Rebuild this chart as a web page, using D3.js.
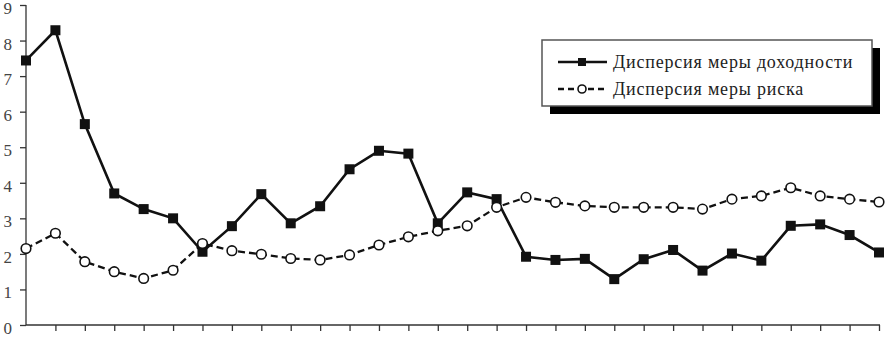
<!doctype html>
<html>
<head>
<meta charset="utf-8">
<script src="https://d3js.org/d3.v7.min.js"></script>
<style>
  body { margin: 0; background: #fff; }
  svg { display: block; }
</style>
</head>
<body>
<svg width="889" height="337"></svg>
<script>
var periods = d3.range(1, 31);
var returnDisp = [7.44, 8.29, 5.65, 3.70, 3.26, 3.00, 2.06, 2.78, 3.68, 2.86,
                  3.34, 4.38, 4.90, 4.82, 2.86, 3.73, 3.54, 1.92, 1.83, 1.86,
                  1.29, 1.85, 2.11, 1.53, 2.01, 1.81, 2.79, 2.83, 2.53, 2.04];
var riskDisp = [2.15, 2.58, 1.78, 1.50, 1.31, 1.54, 2.29, 2.09, 1.99, 1.87,
                1.83, 1.97, 2.25, 2.48, 2.65, 2.79, 3.31, 3.59, 3.45, 3.35,
                3.31, 3.31, 3.31, 3.26, 3.54, 3.63, 3.86, 3.63, 3.54, 3.46];
var yTicks = [0, 1, 2, 3, 4, 5, 6, 7, 8, 9];
var seriesNames = ["Дисперсия меры доходности", "Дисперсия меры риска"];

var svg = d3.select("svg");
var plot = {left: 26, right: 879, top: 5, bottom: 325};

var x = d3.scalePoint().domain(periods).range([plot.left, plot.right]);
var y = d3.scaleLinear().domain([0, 9]).range([plot.bottom, plot.top]);

// axes
var gx = svg.append("g")
    .attr("transform", "translate(0," + plot.bottom + ")")
    .call(d3.axisBottom(x).tickSize(6).tickFormat(""));
gx.select(".domain").attr("d", "M" + plot.left + ",0H" + (plot.right + 1));
gx.selectAll(".tick").filter(function(d, i) { return i === 0; }).remove();

var gy = svg.append("g")
    .attr("transform", "translate(" + plot.left + ",0)")
    .call(d3.axisLeft(y).tickValues(yTicks).tickSize(6).tickPadding(8).tickFormat(d3.format("d")));
gy.select(".domain").attr("d", "M0," + plot.top + "V" + plot.bottom);

svg.selectAll(".domain, .tick line").attr("stroke", "#333").attr("stroke-width", 1.3);
gy.selectAll("text")
    .attr("font-family", "Liberation Serif, serif")
    .attr("font-size", 17)
    .attr("dy", "0.5em")
    .attr("fill", "#444");

// lines
var line = d3.line().x(function(d, i) { return x(periods[i]); }).y(function(d) { return y(d); });

svg.append("path").datum(riskDisp)
    .attr("d", line).attr("fill", "none")
    .attr("stroke", "#111").attr("stroke-width", 2.3)
    .attr("stroke-dasharray", "7,4");

svg.append("path").datum(returnDisp)
    .attr("d", line).attr("fill", "none")
    .attr("stroke", "#111").attr("stroke-width", 2.6);

svg.selectAll(".sq").data(returnDisp).enter().append("rect")
    .attr("x", function(d, i) { return x(periods[i]) - 5; })
    .attr("y", function(d) { return y(d) - 5; })
    .attr("width", 10).attr("height", 10)
    .attr("fill", "#111");

svg.selectAll(".ci").data(riskDisp).enter().append("circle")
    .attr("cx", function(d, i) { return x(periods[i]); })
    .attr("cy", function(d) { return y(d); })
    .attr("r", 4.8)
    .attr("fill", "#fff").attr("stroke", "#111").attr("stroke-width", 1.6);

// legend
var lg = svg.append("g").attr("transform", "translate(542,40)");
lg.append("rect").attr("x", 8).attr("y", 8).attr("width", 330).attr("height", 66).attr("fill", "#000");
lg.append("rect").attr("x", 0).attr("y", 0).attr("width", 330).attr("height", 66)
    .attr("fill", "#fff").attr("stroke", "#555").attr("stroke-width", 1.5);

var rows = lg.selectAll(".row").data(seriesNames).enter().append("g")
    .attr("transform", function(d, i) { return "translate(0," + (22 + i * 27) + ")"; });
rows.append("line").attr("x1", 16).attr("x2", 65).attr("y1", 0).attr("y2", 0)
    .attr("stroke", "#111")
    .attr("stroke-width", function(d, i) { return i === 0 ? 2.6 : 2.3; })
    .attr("stroke-dasharray", function(d, i) { return i === 0 ? null : "6,4"; });
rows.filter(function(d, i) { return i === 0; }).append("rect")
    .attr("x", 36).attr("y", -4).attr("width", 8).attr("height", 8).attr("fill", "#111");
rows.filter(function(d, i) { return i === 1; }).append("circle")
    .attr("cx", 40).attr("cy", 0).attr("r", 4)
    .attr("fill", "#fff").attr("stroke", "#111").attr("stroke-width", 1.6);
rows.append("text").attr("x", 71).attr("y", 6)
    .attr("font-family", "Liberation Serif, serif")
    .attr("font-size", 18).attr("letter-spacing", 0.8).attr("fill", "#222")
    .text(function(d) { return d; });
</script>
</body>
</html>
